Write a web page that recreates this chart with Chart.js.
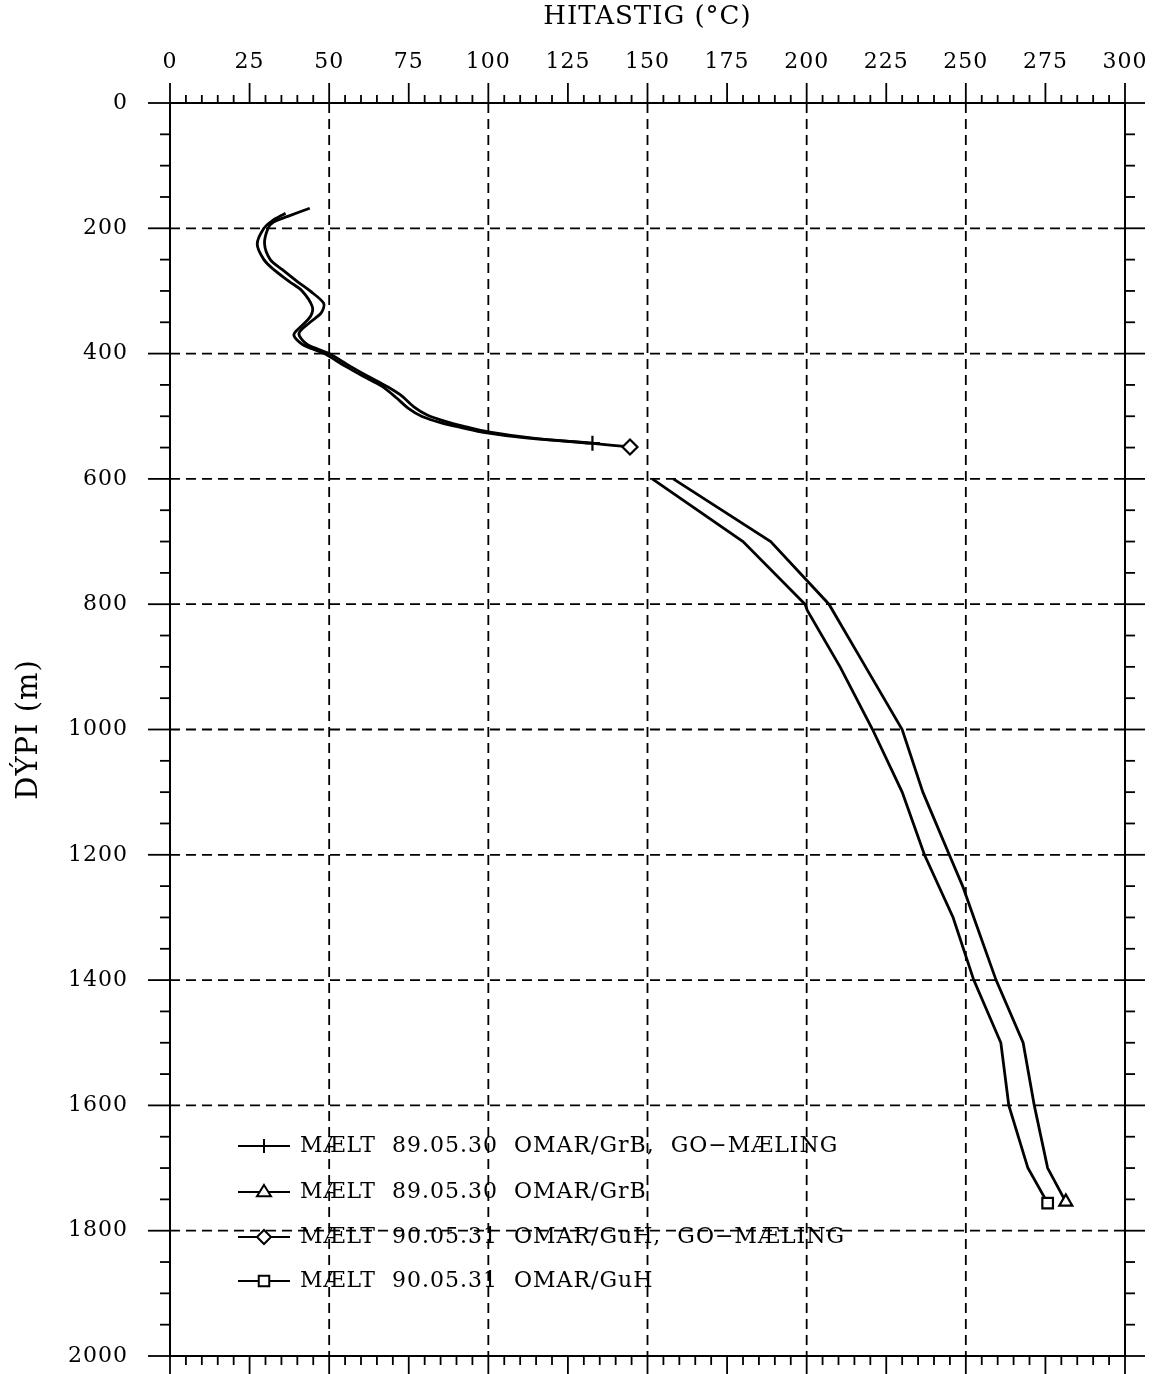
<!DOCTYPE html>
<html>
<head>
<meta charset="utf-8">
<script src="https://cdn.jsdelivr.net/npm/chart.js@4/dist/chart.umd.min.js"></script>
<style>
    html, body { margin: 0; padding: 0; background: #fff; overflow: hidden; }
    canvas { display: block; }
</style>
</head>
<body>
<canvas id="chart" width="1155" height="1374" style="width:1155px;height:1374px"></canvas>
<script>
// Borehole temperature logs (temperature in °C vs depth in m)
const seriesLabels = [
    'MÆLT  89.05.30  OMAR/GrB,  GO−MÆLING',
    'MÆLT  89.05.30  OMAR/GrB',
    'MÆLT  90.05.31  OMAR/GuH,  GO−MÆLING',
    'MÆLT  90.05.31  OMAR/GuH'
];
const seriesMarkers = ['cross', 'triangle', 'rectRot', 'rect'];

// 89.05.30 GO-measurement (ends with +)
const go89Depth = [176, 188, 200, 225, 250, 266, 285, 300, 325, 340, 355, 370, 385, 400, 420, 437, 452, 470, 488, 500, 511, 518, 526, 535, 543];
const go89Temp = [36.3, 32.1, 29.5, 27.4, 29.5, 32.6, 37.5, 41.5, 44.7, 44.2, 41.5, 38.9, 41.5, 48.5, 55, 61, 66.5, 71, 75, 79, 85.5, 91.5, 99, 112.5, 132.7];

// 89.05.30 (ends with triangle)
const log89Depth = [600, 700, 800, 900, 1000, 1100, 1200, 1250, 1300, 1400, 1500, 1600, 1700, 1754];
const log89Temp = [158.1, 188.7, 207, 218.5, 230, 236.5, 244.8, 249, 252.5, 259.5, 268, 271.5, 275.7, 281.4];

// 90.05.31 GO-measurement (ends with diamond)
const go90Depth = [168, 181, 190, 200, 225, 250, 266, 285, 300, 320, 335, 350, 368, 385, 400, 420, 437, 452, 466, 485, 498, 509, 517, 525, 535, 543, 549];
const go90Temp = [43.9, 37, 32.5, 30.8, 29.7, 31.5, 35.3, 40, 44, 48.3, 47.5, 44, 40.5, 43, 50, 56.5, 62.5, 68, 72.4, 76.6, 80.8, 87, 93, 100, 114, 132, 144.5];

// 90.05.31 (ends with square)
const log90Depth = [600, 700, 800, 810, 900, 1000, 1100, 1200, 1300, 1400, 1500, 1600, 1700, 1756];
const log90Temp = [151.5, 180, 199.5, 200.2, 210.5, 220.7, 230, 237, 246, 252.5, 261, 263.5, 269.5, 275.7];

const tempGrid = [50, 100, 150, 200, 250];
const depthGrid = [200, 400, 600, 800, 1000, 1200, 1400, 1600, 1800];

const FONT = "'DejaVu Serif', 'Liberation Serif', serif";

function toPoints(temps, depths) {
    return temps.map((t, i) => ({ x: t, y: depths[i] }));
}

function makeSeries(idx, temps, depths, tension) {
    const last = temps.length - 1;
    return {
        label: seriesLabels[idx],
        data: toPoints(temps, depths),
        showLine: true,
        borderColor: '#000',
        borderWidth: 2.8,
        tension: tension,
        pointStyle: seriesMarkers[idx],
        pointRadius: (c) => c.dataIndex === last ? 7.5 : 0,
        pointHoverRadius: 0,
        pointBackgroundColor: '#fff',
        pointBorderColor: '#000',
        pointBorderWidth: 2.2
    };
}

function strokeLine(ctx, x1, y1, x2, y2) {
    ctx.beginPath();
    ctx.moveTo(x1, y1);
    ctx.lineTo(x2, y2);
    ctx.stroke();
}

function drawMarker(ctx, style, x, y, r) {
    ctx.beginPath();
    if (style === 'cross') {
        ctx.moveTo(x - r, y); ctx.lineTo(x + r, y);
        ctx.moveTo(x, y - r); ctx.lineTo(x, y + r);
        ctx.stroke();
        return;
    }
    if (style === 'triangle') {
        ctx.moveTo(x, y - r);
        ctx.lineTo(x + r, y + r * 0.6);
        ctx.lineTo(x - r, y + r * 0.6);
    } else if (style === 'rectRot') {
        ctx.moveTo(x, y - r); ctx.lineTo(x + r, y);
        ctx.lineTo(x, y + r); ctx.lineTo(x - r, y);
    } else {
        ctx.rect(x - r * 0.75, y - r * 0.75, r * 1.5, r * 1.5);
    }
    ctx.closePath();
    ctx.fillStyle = '#fff';
    ctx.fill();
    ctx.stroke();
}

// wider letter spacing like the plotter lettering
const spacingPlugin = {
    id: 'spacing',
    beforeDraw(chart) {
        chart.ctx.letterSpacing = '1px';
    }
};

// axis frame, dashed grid and tick marks (old plotter style)
const framePlugin = {
    id: 'frame',
    beforeDatasetsDraw(chart) {
        const { ctx, chartArea: a, scales: { x, y } } = chart;
        ctx.save();
        ctx.strokeStyle = '#000';
        ctx.lineWidth = 1.8;
        ctx.setLineDash([10, 6]);
        tempGrid.forEach(v => {
            const px = x.getPixelForValue(v);
            strokeLine(ctx, px, a.top, px, a.bottom);
        });
        depthGrid.forEach(v => {
            const py = y.getPixelForValue(v);
            strokeLine(ctx, a.left, py, a.right, py);
        });
        ctx.setLineDash([]);
        ctx.lineWidth = 2;
        ctx.strokeRect(a.left, a.top, a.right - a.left, a.bottom - a.top);
        ctx.lineWidth = 1.8;
        for (let v = 0; v <= 300; v += 5) {
            const px = x.getPixelForValue(v);
            const major = v % 25 === 0;
            strokeLine(ctx, px, a.top - (major ? 20 : 8), px, a.top);
            strokeLine(ctx, px, a.bottom, px, a.bottom + (major ? 18 : 9));
        }
        for (let v = 0; v <= 2000; v += 50) {
            const py = y.getPixelForValue(v);
            const major = v % 200 === 0;
            strokeLine(ctx, a.left - (major ? 22 : 10), py, a.left, py);
            strokeLine(ctx, a.right, py, a.right + (major ? 20 : 10), py);
        }
        ctx.restore();
    }
};

// legend inside the plot, bottom left
const legendPlugin = {
    id: 'plotLegend',
    afterDatasetsDraw(chart) {
        const { ctx, chartArea: a } = chart;
        const rows = [1146, 1192, 1237, 1281];
        ctx.save();
        ctx.strokeStyle = '#000';
        ctx.fillStyle = '#000';
        ctx.font = '22px ' + FONT;
        ctx.textBaseline = 'middle';
        chart.data.datasets.forEach((ds, i) => {
            const yy = rows[i];
            const x0 = a.left + 68;
            ctx.lineWidth = 2.2;
            strokeLine(ctx, x0, yy, x0 + 52, yy);
            ctx.lineWidth = 2;
            drawMarker(ctx, ds.pointStyle, x0 + 26, yy, 7);
            ctx.fillStyle = '#000';
            ctx.fillText(ds.label, x0 + 62, yy);
        });
        ctx.restore();
    }
};

new Chart(document.getElementById('chart'), {
    type: 'scatter',
    data: {
        datasets: [
            makeSeries(0, go89Temp, go89Depth, 0.3),
            makeSeries(1, log89Temp, log89Depth, 0),
            makeSeries(2, go90Temp, go90Depth, 0.3),
            makeSeries(3, log90Temp, log90Depth, 0)
        ]
    },
    options: {
        responsive: false,
        devicePixelRatio: 1,
        animation: false,
        layout: { padding: { top: 0, left: 0, right: 30, bottom: 18 } },
        plugins: {
            legend: { display: false },
            tooltip: { enabled: false }
        },
        scales: {
            x: {
                type: 'linear',
                position: 'top',
                min: 0,
                max: 300,
                afterFit: (s) => {
                    s.height = 103;
                    s.paddingLeft = 0;
                    s.paddingRight = 0;
                },
                grid: { display: false, drawTicks: false },
                border: { display: false },
                ticks: {
                    stepSize: 25,
                    autoSkip: false,
                    maxRotation: 0,
                    padding: 28,
                    color: '#000',
                    font: { family: FONT, size: 22 },
                    callback: (v) => String(v)
                },
                title: {
                    display: true,
                    text: 'HITASTIG (°C)',
                    color: '#000',
                    padding: { top: 2, bottom: 0 },
                    font: { family: FONT, size: 26 }
                }
            },
            y: {
                type: 'linear',
                position: 'left',
                reverse: true,
                min: 0,
                max: 2000,
                afterFit: (s) => {
                    s.width = 170;
                    s.paddingTop = 0;
                    s.paddingBottom = 0;
                },
                grid: { display: false, drawTicks: false },
                border: { display: false },
                ticks: {
                    stepSize: 200,
                    autoSkip: false,
                    padding: 42,
                    color: '#000',
                    font: { family: FONT, size: 22 },
                    callback: (v) => String(v)
                },
                title: {
                    display: true,
                    text: 'DÝPI (m)',
                    color: '#000',
                    padding: { top: 12, bottom: 0 },
                    font: { family: FONT, size: 29 }
                }
            }
        }
    },
    plugins: [spacingPlugin, framePlugin, legendPlugin]
});
</script>
</body>
</html>
